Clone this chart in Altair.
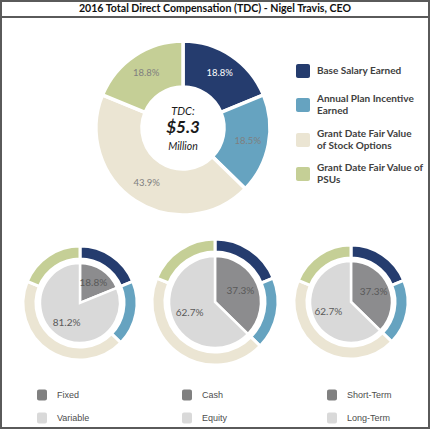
import altair as alt
import pandas as pd

# ---- data ----
title_text = "2016 Total Direct Compensation (TDC) - Nigel Travis, CEO"
components = ["Base Salary Earned", "Annual Plan Incentive Earned",
              "Grant Date Fair Value of Stock Options", "Grant Date Fair Value of PSUs"]
component_pct = [18.8, 18.5, 43.9, 18.8]
legend_lines = [["Base Salary Earned"], ["Annual Plan Incentive", "Earned"],
                ["Grant Date Fair Value", "of Stock Options"], ["Grant Date Fair Value of", "PSUs"]]
component_colors = ["#253C6E", "#66A3C0", "#EBE5D3", "#C5CF96"]

split_names = [["Fixed", "Variable"], ["Cash", "Equity"], ["Short-Term", "Long-Term"]]
split_pct = [[18.8, 81.2], [37.3, 62.7], [37.3, 62.7]]
split_colors = ["#8C8C8E", "#D9D9D9"]
legend_square_colors = ["#808080", "#D9D9D9"]

center_lines = ["TDC:", "$5.3", "Million"]

W, H = 431, 429
FONT = "Lato"

theta_scale = alt.Scale(domain=[0, 100], range=[0, 6.283185307179586])


def ring_df(names, pcts):
    rows = []
    start = 0.0
    for n, p in zip(names, pcts):
        rows.append({"name": n, "pct": p, "start": start, "end": start + p,
                     "mid": start + p / 2, "label": f"{p:.1f}%"})
        start += p
    return pd.DataFrame(rows)


def arc_layer(df, cx, cy, r_in, r_out, names, colors, stroke_w):
    return alt.Chart(df).mark_arc(
        x=cx, y=cy, innerRadius=r_in, outerRadius=r_out,
        stroke="white", strokeWidth=stroke_w
    ).encode(
        theta=alt.Theta("start:Q", scale=theta_scale),
        theta2="end:Q",
        color=alt.Color("name:N", scale=alt.Scale(domain=names, range=colors), legend=None),
    )


layers = []

# frame
layers.append(alt.Chart(pd.DataFrame({"a": [0]})).mark_rect(
    fill="white", stroke="#5A5A5A", strokeWidth=2
).encode(x=alt.value(1), x2=alt.value(429), y=alt.value(1), y2=alt.value(428)))
layers.append(alt.Chart(pd.DataFrame({"a": [0]})).mark_rule(
    stroke="#5A5A5A", strokeWidth=2
).encode(x=alt.value(1), x2=alt.value(429), y=alt.value(17)))
layers.append(alt.Chart(pd.DataFrame({"t": [title_text]})).mark_text(
    font=FONT, fontSize=10.6, fontWeight="bold", color="#111111", baseline="middle"
).encode(x=alt.value(215), y=alt.value(9), text="t:N"))

# main donut
main_df = ring_df(components, component_pct)
main_df["tcolor"] = ["white", "#7F7F7F", "#7F7F7F", "#7F7F7F"]
layers.append(arc_layer(main_df, 183, 128, 41, 87, components, component_colors, 3.5))
layers.append(alt.Chart(main_df).mark_text(
    x=183, y=128, radius=66, font=FONT, fontSize=9.5
).encode(
    theta=alt.Theta("mid:Q", scale=theta_scale),
    text="label:N",
    color=alt.Color("tcolor:N", scale=None),
))

# center text
center_df = pd.DataFrame({"t": center_lines, "i": [0, 1, 2]})
center_y = [112, 128, 147]
center_size = [11, 17, 10.5]
center_weight = ["normal", "bold", "normal"]
for i, t in enumerate(center_lines):
    layers.append(alt.Chart(center_df[center_df.i == i]).mark_text(
        font=FONT, fontSize=center_size[i], fontWeight=center_weight[i],
        fontStyle="italic", color="#1A1A1A", baseline="middle"
    ).encode(x=alt.value(183), y=alt.value(center_y[i]), text="t:N"))

# right legend
leg_y = [71, 105, 140, 174]
for i, name in enumerate(components):
    layers.append(alt.Chart(pd.DataFrame({"n": [name]})).mark_rect(
        cornerRadius=2, color=component_colors[i]
    ).encode(x=alt.value(296), x2=alt.value(310),
             y=alt.value(leg_y[i] - 7), y2=alt.value(leg_y[i] + 7)))
    lines = legend_lines[i]
    n = len(lines)
    for j, ln in enumerate(lines):
        yy = leg_y[i] + (j - (n - 1) / 2) * 12.5
        layers.append(alt.Chart(pd.DataFrame({"t": [ln]})).mark_text(
            font=FONT, fontSize=10, fontWeight="bold", color="#404040",
            align="left", baseline="middle"
        ).encode(x=alt.value(317), y=alt.value(yy), text="t:N"))

# small donuts
small_cx = [80, 215, 351]
small_cy = [303, 302, 302]
small_out = [57, 63, 57]
small_rin = [44, 50, 44]
small_pie = [40, 46, 41]
for k in range(3):
    cx, cy = small_cx[k], small_cy[k]
    layers.append(arc_layer(ring_df(components, component_pct), cx, cy,
                            small_rin[k], small_out[k], components, component_colors, 3))
    sdf = ring_df(split_names[k], split_pct[k])
    layers.append(alt.Chart(sdf).mark_arc(
        x=cx, y=cy, outerRadius=small_pie[k], stroke="white", strokeWidth=2.5
    ).encode(
        theta=alt.Theta("start:Q", scale=theta_scale),
        theta2="end:Q",
        color=alt.Color("name:N", scale=alt.Scale(domain=split_names[k], range=split_colors), legend=None),
    ))
    layers.append(alt.Chart(sdf).mark_text(
        x=cx, y=cy, radius=small_pie[k] * 0.6, font=FONT, fontSize=10, color="#595959"
    ).encode(
        theta=alt.Theta("mid:Q", scale=theta_scale),
        text="label:N",
    ))

# bottom legend
col_x = [42, 187, 332]
row_y = [395, 418]
for k in range(3):
    for r in range(2):
        layers.append(alt.Chart(pd.DataFrame({"n": [split_names[k][r]]})).mark_rect(
            cornerRadius=2, color=legend_square_colors[r]
        ).encode(x=alt.value(col_x[k] - 5), x2=alt.value(col_x[k] + 5),
                 y=alt.value(row_y[r] - 5.5), y2=alt.value(row_y[r] + 5.5)))
        layers.append(alt.Chart(pd.DataFrame({"t": [split_names[k][r]]})).mark_text(
            font="Liberation Sans", fontSize=9, color="#4D4D4D",
            align="left", baseline="middle"
        ).encode(x=alt.value(col_x[k] + 15), y=alt.value(row_y[r]), text="t:N"))

chart = alt.layer(*layers).properties(
    width=W, height=H, autosize=alt.AutoSizeParams(type="none"), padding=0
).configure_view(stroke=None).resolve_scale(color="independent")

chart.save("out.html", embed_options={"renderer": "svg", "actions": False})
